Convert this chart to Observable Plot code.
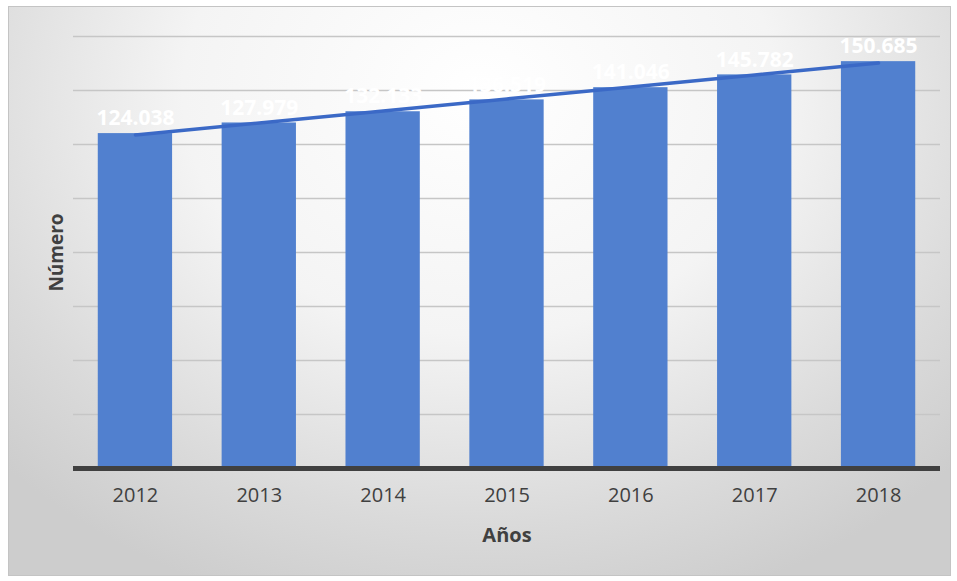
<!DOCTYPE html>
<html>
<head>
<meta charset="utf-8">
<script src="https://cdn.jsdelivr.net/npm/d3@7"></script>
<script src="https://cdn.jsdelivr.net/npm/@observablehq/plot@0.6"></script>
<style>
  html, body { margin: 0; padding: 0; background: #ffffff; }
  #frame {
    position: absolute; left: 8px; top: 6px; width: 941px; height: 568px;
    border: 1px solid #c4c4c4;
    background: radial-gradient(ellipse 70% 95% at 50% 15%, #ffffff 0%, #f4f4f4 45%, #dadada 80%, #cdcdcd 100%);
  }
  #chart { position: absolute; left: 0; top: 0; }
</style>
</head>
<body>
<div id="frame"></div>
<div id="chart"></div>
<script>
const years = ["2012", "2013", "2014", "2015", "2016", "2017", "2018"];
const values = [124038, 127979, 132133, 136519, 141046, 145782, 150685];
const gridTicks = [20000, 40000, 60000, 80000, 100000, 120000, 140000, 160000];
const xLabel = "Años";
const yLabel = "Número";

const data = years.map((year, i) => ({year, value: values[i]}));

// Linear trend line (least squares on index 1..n), as in the spreadsheet trendline
const xs = values.map((_, i) => i + 1);
const mx = d3.mean(xs), my = d3.mean(values);
const slope = d3.sum(xs, (x, i) => (x - mx) * (values[i] - my)) / d3.sum(xs, x => (x - mx) ** 2);
const intercept = my - slope * mx;
const trend = years.map((year, i) => ({year, value: intercept + slope * (i + 1)}));

const es = d3.formatLocale({decimal: ",", thousands: ".", grouping: [3], currency: ["", "€"]});
const fmt = es.format(",d");

const chart = Plot.plot({
  width: 957,
  height: 581,
  marginLeft: 73,
  marginRight: 17,
  marginTop: 36,
  marginBottom: 113,
  style: {background: "transparent", fontFamily: "'Open Sans', sans-serif"},
  x: {domain: years, paddingInner: 0.4, paddingOuter: 0.2, round: false, axis: null},
  y: {domain: [0, 160000], axis: null},
  marks: [
    Plot.ruleY(gridTicks, {stroke: "#c6c6c6", strokeWidth: 1.5}),
    Plot.barY(data, {x: "year", y: "value", fill: "#5180cf"}),
    Plot.ruleY([0], {stroke: "#404040", strokeWidth: 5}),
    Plot.line(trend, {x: "year", y: "value", stroke: "#3b69c6", strokeWidth: 3.5}),
    Plot.text(data, {x: "year", y: "value", text: d => fmt(d.value), dy: -15, fill: "white", fontWeight: "bold", fontSize: 21}),
    Plot.axisX({tickSize: 0, tickPadding: 19, fontSize: 20, fill: "#404040", label: null}),
    Plot.text([xLabel], {text: d => d, frameAnchor: "bottom", textAnchor: "middle", lineAnchor: "middle", dy: 67, fontWeight: "bold", fontSize: 20, fill: "#404040"}),
    Plot.text([yLabel], {text: d => d, frameAnchor: "left", textAnchor: "middle", lineAnchor: "middle", rotate: -90, dx: -17, fontWeight: "bold", fontSize: 19, fill: "#404040"})
  ]
});
document.getElementById("chart").appendChild(chart);
</script>
</body>
</html>
